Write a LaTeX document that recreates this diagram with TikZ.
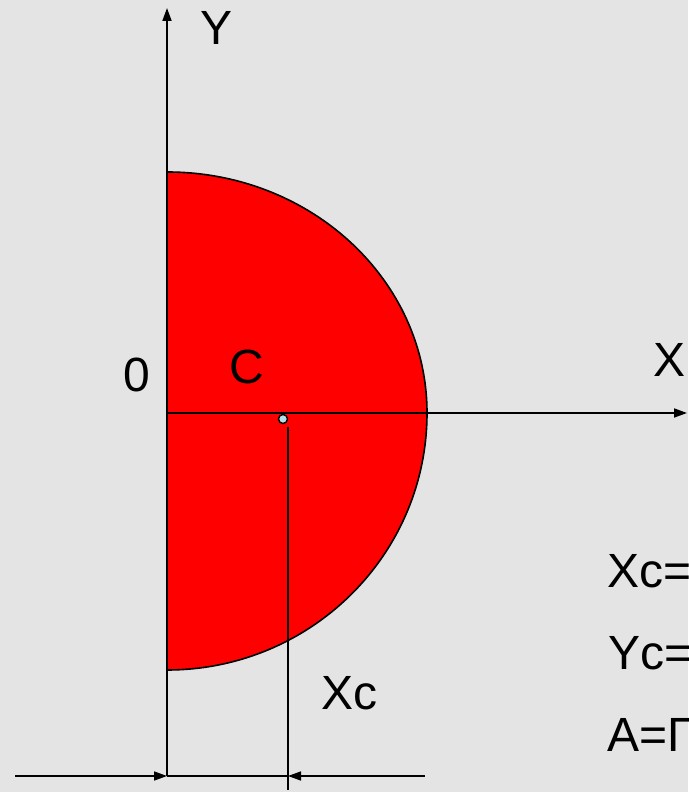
\documentclass[tikz,border=0pt]{standalone}
\usepackage{fontspec}
\setmainfont{Liberation Sans}
\usetikzlibrary{arrows.meta}
\definecolor{PaperGray}{HTML}{E4E4E4}
\definecolor{DiscRed}{HTML}{FF0000}
\definecolor{DotBlue}{HTML}{B4E1E8}

\begin{document}
\begin{tikzpicture}[x=1pt, y=1pt,
    axis/.style={line width=1.8pt, -{Triangle[length=13pt, width=9pt]}},
    dimline/.style={line width=1.6pt},
    dimarrow/.style={line width=1.6pt, -{Triangle[length=13pt, width=9pt]}},
    lbl/.style={inner sep=0pt, anchor=base west, font=\fontsize{48}{56}\selectfont}]
    \useasboundingbox (0,0) rectangle (688,792);
    \clip (0,0) rectangle (688,792);
    \fill[PaperGray] (0,0) rectangle (688,792);
    % key points
    \coordinate (O) at (167,379);
    \coordinate (ytip) at (167,784);
    \coordinate (yfoot) at (167,16);
    \coordinate (xtip) at (687,379);
    \coordinate (top) at (167,620);
    \coordinate (C) at (283,373);
    \coordinate (ctop) at (288,365);
    \coordinate (cfoot) at (288,2);
    \coordinate (dimL) at (15,16);
    \coordinate (dimC) at (288,16);
    \coordinate (dimR) at (425,16);
    % half disc
    \fill[DiscRed] (top) arc[start angle=90, end angle=0, x radius=260pt, y radius=241pt]
      arc[start angle=0, end angle=-90, x radius=260pt, y radius=257pt] -- cycle;
    \draw[line width=1.6pt] (top) arc[start angle=90, end angle=0, x radius=260pt, y radius=241pt]
      arc[start angle=0, end angle=-90, x radius=260pt, y radius=257pt];
    % axes
    \draw[axis] (yfoot) -- (ytip);
    \draw[axis] (O) -- (xtip);
    % centroid
    \draw[dimline] (ctop) -- (cfoot);
    \draw[fill=DotBlue, line width=1.4pt] (C) circle (4.5pt);
    % dimension Xc
    \draw[dimarrow] (dimL) -- (yfoot);
    \draw[dimline] (yfoot) -- (dimC);
    \draw[dimarrow] (dimR) -- (dimC);
    % labels
    \node[lbl] (labY) at (200,747) {Y};
    \node[lbl] (lab0) at (123,400) {0};
    \node[lbl] (labC) at (229,408) {C};
    \node[lbl] (labX) at (653,415) {X};
    \node[lbl] (labXc) at (321,82) {Xc};
    \node[lbl] (eqXc) at (607,204) {Xc=};
    \node[lbl] (eqYc) at (608,122) {Yc=};
    \node[lbl] (eqA) at (607,40) {A=Г};
\end{tikzpicture}
\end{document}
